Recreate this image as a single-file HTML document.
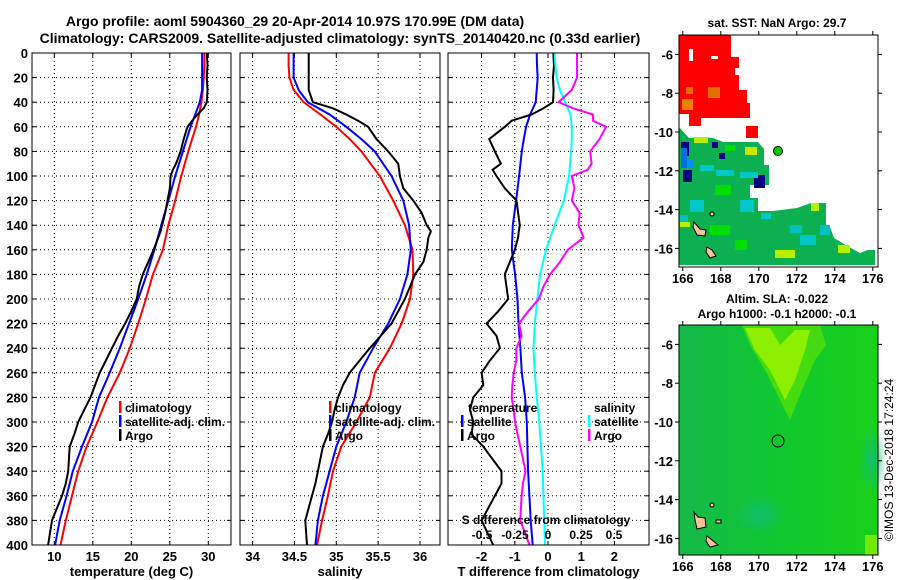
<!DOCTYPE html>
<html><head><meta charset="utf-8"><style>
html,body{margin:0;padding:0;background:#fff}
svg{display:block}
text{font-family:"Liberation Sans",Arial,sans-serif;font-weight:bold;fill:#000}
</style></head><body>
<svg id="fig" width="900" height="580" viewBox="0 0 900 580" xmlns="http://www.w3.org/2000/svg">
<rect width="900" height="580" fill="#fff"/>
<text x="295" y="26" font-size="14" text-anchor="middle">Argo profile: aoml 5904360_29 20-Apr-2014 10.97S 170.99E (DM data)</text>
<text x="340" y="43" font-size="14" text-anchor="middle">Climatology: CARS2009. Satellite-adjusted climatology: synTS_20140420.nc (0.33d earlier)</text>
<g id="panels"></g>

<!-- top map -->
<g>
<text x="777" y="27" font-size="12" text-anchor="middle">sat. SST: NaN Argo: 29.7</text>
<rect x="679" y="35" width="199" height="232" fill="#fff"/>
<polygon fill="#0db050" points="679,127 689,138 701,137 713,138 723,142 758,142 764,149 764,165 769,165 769,185 750,185 750,198 758,198 758,211 773,211 797,208 811,203 826,203 826,227 830,227 834,238 849,247 860,253 868,250 875,250 875,265 679,265"/>
<g>
<rect x="681" y="142" width="8" height="14" fill="#000080"/><rect x="712" y="142" width="6" height="6" fill="#000080"/><rect x="719" y="153" width="6" height="6" fill="#000080"/>
<rect x="683" y="170" width="9" height="12" fill="#000080"/><rect x="754" y="175" width="11" height="13" fill="#000080"/><rect x="683" y="159" width="10" height="8" fill="#0a8cf0"/>
<rect x="681" y="148" width="6" height="20" fill="#0070e0"/><rect x="694" y="137" width="14" height="6" fill="#b8f000"/><rect x="700" y="165" width="14" height="6" fill="#00c8c8"/>
<rect x="716" y="170" width="18" height="6" fill="#00c8c8"/><rect x="740" y="172" width="18" height="6" fill="#00c8c8"/><rect x="725" y="145" width="10" height="6" fill="#00dd00"/>
<rect x="745" y="147" width="12" height="8" fill="#c8e800"/><rect x="740" y="200" width="14" height="12" fill="#00c8c8"/><rect x="761" y="213" width="10" height="6" fill="#00c8c8"/>
<rect x="690" y="200" width="14" height="12" fill="#00c8c8"/><rect x="680" y="215" width="8" height="10" fill="#00c0c0"/><rect x="715" y="185" width="16" height="10" fill="#00dd00"/>
<rect x="710" y="225" width="20" height="10" fill="#00dd00"/><rect x="775" y="250" width="20" height="8" fill="#b8f000"/><rect x="800" y="235" width="16" height="10" fill="#00c8c8"/>
<rect x="811" y="203" width="8" height="8" fill="#b8f000"/><rect x="838" y="245" width="12" height="8" fill="#b8f000"/><rect x="680" y="222" width="10" height="5" fill="#b8f000"/>
<rect x="735" y="240" width="12" height="10" fill="#00dd00"/><rect x="790" y="225" width="12" height="8" fill="#00c0c0"/><rect x="820" y="225" width="10" height="10" fill="#00c0c0"/>
</g>
<g fill="#ff0000">
<rect x="679" y="35" width="52" height="23"/><rect x="679" y="57" width="60" height="33"/><rect x="679" y="90" width="68" height="13"/>
<rect x="701" y="103" width="49" height="15"/><rect x="679" y="103" width="22" height="15"/><rect x="689" y="114" width="12" height="12"/><rect x="746" y="126" width="12" height="12"/>
</g>
<g fill="#fff"><rect x="689" y="49" width="4" height="12"/><rect x="711" y="56" width="7" height="3"/><rect x="735" y="68" width="4" height="7"/><rect x="679" y="114" width="10" height="12"/></g>
<g fill="#e07000"><rect x="682" y="99" width="11" height="11" fill="#f08000"/><rect x="686" y="87" width="7" height="7"/><rect x="708" y="87" width="12" height="11"/></g>
<g fill="#f5c49a" stroke="#000" stroke-width="1"><polygon points="694,222 700,229 706,230 705,236 697,235 693,227"/><polygon points="707,247 712,250 716,256 710,258 706,252"/><circle cx="712" cy="214" r="2"/></g>
<circle cx="778" cy="151" r="4.5" fill="#00cc00" stroke="#000"/>
<rect x="679" y="35" width="199" height="232" fill="none" stroke="#000"/>
</g>

<!-- bottom map -->
<g>
<text x="777" y="303" font-size="12" text-anchor="middle">Altim. SLA: -0.022</text>
<text x="777" y="318" font-size="12" text-anchor="middle">Argo h1000: -0.1 h2000: -0.1</text>
<defs>
<linearGradient id="slag" x1="0" x2="1" y1="0" y2="0"><stop offset="0" stop-color="#14b848"/><stop offset="0.5" stop-color="#10c830"/><stop offset="1" stop-color="#18d018"/></linearGradient>
<radialGradient id="teal1"><stop offset="0" stop-color="#10c070"/><stop offset="1" stop-color="#10c070" stop-opacity="0"/></radialGradient>
</defs>
<rect x="679" y="325" width="199" height="230" fill="url(#slag)"/>
<ellipse cx="872" cy="460" rx="14" ry="35" fill="url(#teal1)"/>
<ellipse cx="760" cy="515" rx="25" ry="20" fill="url(#teal1)"/>
<polygon fill="#44dc10" points="742,325 820,325 826,345 815,360 800,395 790,420 780,400 765,370 750,345"/>
<polygon fill="#8cf000" points="745,328 770,328 780,345 795,330 810,330 805,350 795,380 785,400 770,370 755,350"/>
<rect x="865" y="535" width="12" height="20" fill="#70e800"/>
<g fill="#f5c49a" stroke="#000" stroke-width="1"><polygon points="694,512 698,517 705,518 706,527 697,529 695,520"/><polygon points="707,536 712,540 718,545 710,547 706,541"/><circle cx="712" cy="505" r="2"/><rect x="716" y="520" width="5" height="3"/></g>
<circle cx="778" cy="441" r="6" fill="none" stroke="#000"/>
<rect x="679" y="325" width="199" height="230" fill="none" stroke="#000"/>
</g>
<g id="mapaxes"></g>
<text transform="translate(893,460) rotate(-90)" font-size="12" text-anchor="middle" style="font-weight:normal">©IMOS 13-Dec-2018 17:24:24</text>
</svg>
<script>
// depth grids and series values
const depthClim = [0,10,20,30,40,50,60,70,80,100,120,140,160,180,200,220,240,260,280,300,320,340,360,380,400];
const tempClim = [29.5,29.5,29.4,29.3,29.1,28.8,28.4,27.9,27.4,26.5,25.7,24.8,24.1,22.8,21.9,20.9,19.8,18.5,16.9,15.6,14.2,13.1,12.3,11.5,10.8];
const tempSat  = [29.2,29.2,29.2,29.2,28.9,28.3,27.7,27.2,26.7,25.7,24.8,23.9,23.0,22.0,20.9,19.7,18.5,17.2,15.8,14.9,13.6,12.4,11.6,10.7,10.1];
const salClim = [34.43,34.43,34.44,34.49,34.61,34.81,35.0,35.16,35.30,35.52,35.68,35.82,35.91,35.92,35.88,35.78,35.64,35.46,35.40,35.24,35.06,34.96,34.90,34.83,34.77];
const salSat  = [34.49,34.49,34.49,34.55,34.66,34.92,35.12,35.30,35.46,35.66,35.80,35.87,35.89,35.85,35.76,35.62,35.44,35.28,35.22,35.12,35.0,34.92,34.84,34.78,34.75];
const depthArgo = [0,10,20,30,40,45,50,55,60,70,80,90,95,100,110,120,130,140,145,150,160,170,180,190,200,210,220,230,240,250,260,270,280,290,300,310,320,340,350,360,380,400];
const tempArgo = [29.8,29.9,29.8,29.9,29.8,29.4,28.6,27.9,27.3,26.8,26.4,25.8,25.4,25.1,25.0,24.7,24.4,24.0,23.8,23.5,22.9,22.2,21.5,21.0,20.7,20.0,19.2,18.3,17.5,16.7,15.9,15.3,14.7,13.9,13.1,12.6,12.0,11.8,11.5,11.0,9.7,9.2];
const salArgo = [34.67,34.67,34.67,34.67,34.72,34.96,35.12,35.26,35.38,35.48,35.62,35.74,35.75,35.76,35.80,35.92,36.02,36.08,36.13,36.10,36.08,36.04,35.94,35.88,35.82,35.74,35.66,35.53,35.40,35.28,35.16,35.08,35.02,34.98,34.95,34.90,34.84,34.78,34.75,34.71,34.63,34.65];
const dtSat = [-0.34,-0.33,-0.31,-0.34,-0.37,-0.54,-0.66,-0.73,-0.79,-0.87,-0.96,-1.06,-1.09,-0.99,-0.92,-0.89,-0.83,-0.79,-0.69,-0.64,-0.62,-0.60,-0.56,-0.52,-0.46];
const dsSat = [0.05,0.055,0.065,0.09,0.13,0.17,0.18,0.18,0.175,0.16,0.12,0.05,-0.015,-0.06,-0.08,-0.10,-0.11,-0.10,-0.085,-0.066,-0.053,-0.04,-0.035,-0.028,-0.023];
const dtArgo = [0.16,0.18,0.15,0.17,0.15,-0.14,-0.49,-1.09,-1.3,-1.77,-1.6,-1.42,-1.67,-1.55,-1.3,-0.95,-0.9,-0.85,-0.88,-0.9,-1.0,-1.15,-1.3,-1.25,-1.2,-1.5,-1.85,-1.55,-1.45,-1.75,-2.0,-1.95,-2.25,-2.35,-2.25,-2.3,-1.95,-1.4,-1.4,-1.6,-2.0,-1.65];
const dsArgo = [0.22,0.22,0.22,0.18,0.08,0.19,0.34,0.34,0.44,0.39,0.32,0.33,0.30,0.18,0.20,0.18,0.24,0.23,0.25,0.27,0.15,0.09,0.015,-0.035,-0.07,-0.15,-0.22,-0.2,-0.24,-0.24,-0.26,-0.27,-0.275,-0.26,-0.25,-0.23,-0.21,-0.17,-0.19,-0.2,-0.21,-0.14];
const depthTicks = [0,20,40,60,80,100,120,140,160,180,200,220,240,260,280,300,320,340,360,380,400];
const tempTicks = [10,15,20,25,30];
const salTicks = [34,34.5,35,35.5,36];
const dtTicks = [-2,-1,0,1,2];
const dsTicks = [-0.5,-0.25,0,0.25,0.5];
const dsTickLabels = ["-0.5","-0.25","0","0.25","0.5"];
const lonTicks = [166,168,170,172,174,176];
const latTicks = [-6,-8,-10,-12,-14,-16];

const NS="http://www.w3.org/2000/svg";
const TOP=53, BOT=545;
const yD = d => TOP + d*(BOT-TOP)/400;
const xT = t => 54.3 + (t-10)*7.7;
const xS = s => 336.3 + (s-35)*83.7;
const xDT = v => 548 + v*33.2;
const xDS = v => 548 + v*132;
const mk = (tag, attrs, parent) => { const e=document.createElementNS(NS,tag); for(const k in attrs) e.setAttribute(k,attrs[k]); parent.appendChild(e); return e; };
const root = document.getElementById('panels');

function panel(name, x0, x1, xs, ticks, labels, xlabel, showY) {
  const g = mk('g',{},root);
  
  
  const grid = mk('g',{stroke:'#000','stroke-width':1,'stroke-dasharray':'1,3'},g);
  
  
  depthTicks.forEach(d=>{ if(d>0&&d<400) mk('line',{x1:x0,x2:x1,y1:yD(d),y2:yD(d)},grid); });
  ticks.forEach(t=>{ mk('line',{x1:xs(t),x2:xs(t),y1:TOP,y2:BOT},grid); });
  const tk = mk('g',{stroke:'#000','stroke-width':1},g);
  depthTicks.forEach(d=>{ mk('line',{x1:x0,x2:x0+4,y1:yD(d),y2:yD(d)},tk); mk('line',{x1:x1-4,x2:x1,y1:yD(d),y2:yD(d)},tk); });
  ticks.forEach(t=>{ mk('line',{x1:xs(t),x2:xs(t),y1:BOT,y2:BOT-4},tk); mk('line',{x1:xs(t),x2:xs(t),y1:TOP,y2:TOP+4},tk); });
  ticks.forEach((t,i)=>{
    const tx = mk('text',{x:xs(t),y:BOT+16,'font-size':13,'text-anchor':'middle'},g);
    tx.textContent = labels[i];
    
    
  });
  const xl = mk('text',{x:(x0+x1)/2,y:BOT+31,'font-size':13,'text-anchor':'middle'},g);
  xl.textContent = xlabel;
  
  
  if(showY){ depthTicks.forEach(d=>{
    const ty = mk('text',{x:28,y:yD(d)+5,'font-size':13,'text-anchor':'end'},g);
    ty.textContent = d;
    
    
  }); }
  return g;
}
function line(g, name, xs, vals, depths, color){
  const pts = vals.map((v,i)=>xs(v).toFixed(1)+','+yD(depths[i]).toFixed(1)).join(' ');
  const p = mk('polyline',{points:pts,fill:'none',stroke:color,'stroke-width':2},g);
  
  
}
function box(g,x0,x1){ mk('rect',{x:x0,y:TOP,width:x1-x0,height:BOT-TOP,fill:'none',stroke:'#000','stroke-width':1},g); }
function legend(g, name, x, y, items){
  items.forEach((it,i)=>{
    const b = mk('rect',{x:x,y:y+i*14-11,width:2.5,height:12,fill:it[1]},g);
    
    
    const t = mk('text',{x:x+6,y:y+i*14,'font-size':12},g);
    t.textContent = it[0];
    
    
  });
}

const g1 = panel('temperature-panel',32,231,xT,tempTicks,tempTicks.map(String),'temperature (deg C)',true);
line(g1,'temp-climatology-line',xT,tempClim,depthClim,'#ff0000');
line(g1,'temp-satellite-line',xT,tempSat,depthClim,'#0000ff');
line(g1,'temp-argo-line',xT,tempArgo,depthArgo,'#000');
box(g1,32,231);
legend(g1,'temp-legend',119,412,[['climatology','#ff0000'],['satellite-adj. clim.','#0000ff'],['Argo','#000']]);

const g2 = panel('salinity-panel',240,440,xS,salTicks,salTicks.map(String),'salinity',false);
line(g2,'sal-climatology-line',xS,salClim,depthClim,'#ff0000');
line(g2,'sal-satellite-line',xS,salSat,depthClim,'#0000ff');
line(g2,'sal-argo-line',xS,salArgo,depthArgo,'#000');
box(g2,240,440);
legend(g2,'sal-legend',329,412,[['climatology','#ff0000'],['satellite-adj. clim.','#0000ff'],['Argo','#000']]);

const g3 = panel('difference-panel',448,649,xDT,dtTicks,dtTicks.map(String),'T difference from climatology',false);
line(g3,'dt-satellite-line',xDT,dtSat,depthClim,'#0000ff');
line(g3,'dt-argo-line',xDT,dtArgo,depthArgo,'#000');
line(g3,'ds-satellite-line',xDS,dsSat,depthClim,'#00ffff');
line(g3,'ds-argo-line',xDS,dsArgo,depthArgo,'#ff00ff');
box(g3,448,649);
const tl = mk('text',{x:468,y:412,'font-size':12},g3); tl.textContent='temperature';


legend(g3,'dt-legend',461,426,[['satellite','#0000ff'],['Argo','#000']]);
const sl = mk('text',{x:594,y:412,'font-size':12},g3); sl.textContent='salinity';


legend(g3,'ds-legend',588,426,[['satellite','#00ffff'],['Argo','#ff00ff']]);
const st = mk('text',{x:546,y:524,'font-size':12,'text-anchor':'middle'},g3); st.textContent='S difference from climatology';


dsTicks.forEach((v,i)=>{
  const t = mk('text',{x:xDS(v),y:539,'font-size':12,'text-anchor':'middle'},g3); t.textContent=dsTickLabels[i];
  
  
});

// map axes
const ma = document.getElementById('mapaxes');
const xLon = lon => 679 + (lon-165.8)*19;
[[35,267,283],[325,555,571]].forEach(([y0,y1,ly],k)=>{
  const yLat = lat => y0 + (-5-lat)*19.4;
  lonTicks.forEach(l=>{
    mk('line',{x1:xLon(l),x2:xLon(l),y1:y0,y2:y0-4,stroke:'#000'},ma);
    mk('line',{x1:xLon(l),x2:xLon(l),y1:y1,y2:y1+4,stroke:'#000'},ma);
    const t = mk('text',{x:xLon(l),y:ly,'font-size':13,'text-anchor':'middle'},ma); t.textContent=l;
    
    
  });
  latTicks.forEach(l=>{
    mk('line',{x1:679,x2:675,y1:yLat(l),y2:yLat(l),stroke:'#000'},ma);
    mk('line',{x1:878,x2:882,y1:yLat(l),y2:yLat(l),stroke:'#000'},ma);
    const t = mk('text',{x:673,y:yLat(l)+5,'font-size':13,'text-anchor':'end'},ma); t.textContent=l;
    
    
  });
});
</script>
</body></html>
